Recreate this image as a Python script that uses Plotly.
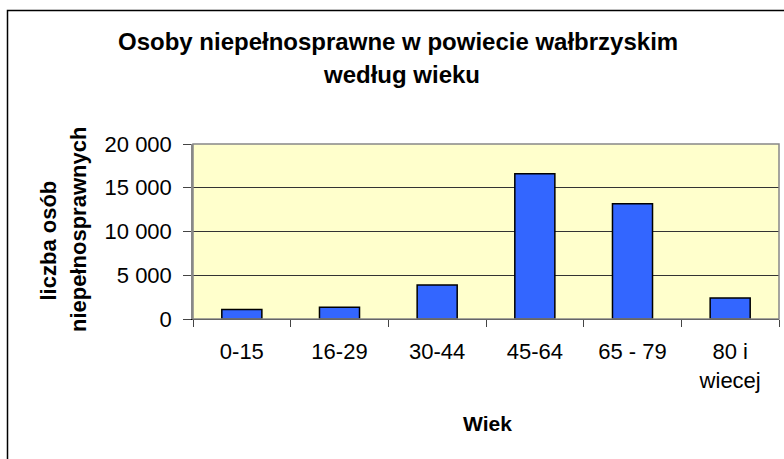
import plotly.graph_objects as go

categories = ["0-15", "16-29", "30-44", "45-64", "65 - 79", "80 i<br>wiecej"]
values = [1100, 1330, 3900, 16600, 13170, 2400]
y_ticks = [0, 5000, 10000, 15000, 20000]
y_tick_labels = ["0", "5 000", "10 000", "15 000", "20 000"]

W, H = 784, 459
L, R, T, B = 193, 5, 144, 140
pw, ph = W - L - R, H - T - B

def px(x):
    return (x - L) / pw

def py(y):
    return (H - B - y) / ph

FONT = "Liberation Sans, Arial, sans-serif"

fig = go.Figure(go.Bar(
    x=categories, y=values,
    marker=dict(color="#3366FF", line=dict(color="black", width=1.5)),
    width=0.41,
))

fig.update_layout(
    width=W, height=H,
    margin=dict(l=L, r=R, t=T, b=B),
    paper_bgcolor="white",
    plot_bgcolor="#FFFFCC",
    showlegend=False,
    font=dict(family=FONT, size=22, color="black"),
    xaxis=dict(
        type="category", showgrid=False, ticks="outside", tickson="boundaries",
        ticklen=7, tickcolor="#444", showline=True, linecolor="black", linewidth=1,
        tickfont=dict(size=22), ticklabelstandoff=13,
    ),
    yaxis=dict(
        range=[0, 20000], tickvals=y_ticks, ticktext=y_tick_labels,
        showgrid=True, gridcolor="#333", gridwidth=1, zeroline=False,
        ticks="outside", ticklen=8, tickcolor="#444",
        showline=True, linecolor="#888", linewidth=1.5, tickfont=dict(size=22),
        ticklabelstandoff=7,
    ),
)

# plot area border
fig.add_shape(type="rect", xref="paper", yref="paper", x0=0, x1=1, y0=0, y1=1,
              line=dict(color="#888", width=1.5), layer="above")
# outer chart border
fig.add_shape(type="rect", xref="paper", yref="paper", x0=px(7.5), x1=px(840), y0=py(10.5), y1=py(520),
              line=dict(color="black", width=1.5))

ann = [
    ("<b>Osoby niepełnosprawne w powiecie wałbrzyskim</b>", 398, 41, 24, 0),
    ("<b>według wieku</b>", 401, 75, 24, 0),
    ("<b>liczba osób</b>", 47.5, 241, 22, -90),
    ("<b>niepełnosprawnych</b>", 78, 230, 22, -90),
    ("<b>Wiek</b>", 487, 423, 21, 0),
]
for text, x, y, size, ang in ann:
    fig.add_annotation(text=text, xref="paper", yref="paper", x=px(x), y=py(y),
                       xanchor="center", yanchor="middle", showarrow=False,
                       textangle=ang, font=dict(family=FONT, size=size, color="black"))

fig.write_html("out.html", config={"displayModeBar": False},
               post_script="document.body.style.margin='0';")
